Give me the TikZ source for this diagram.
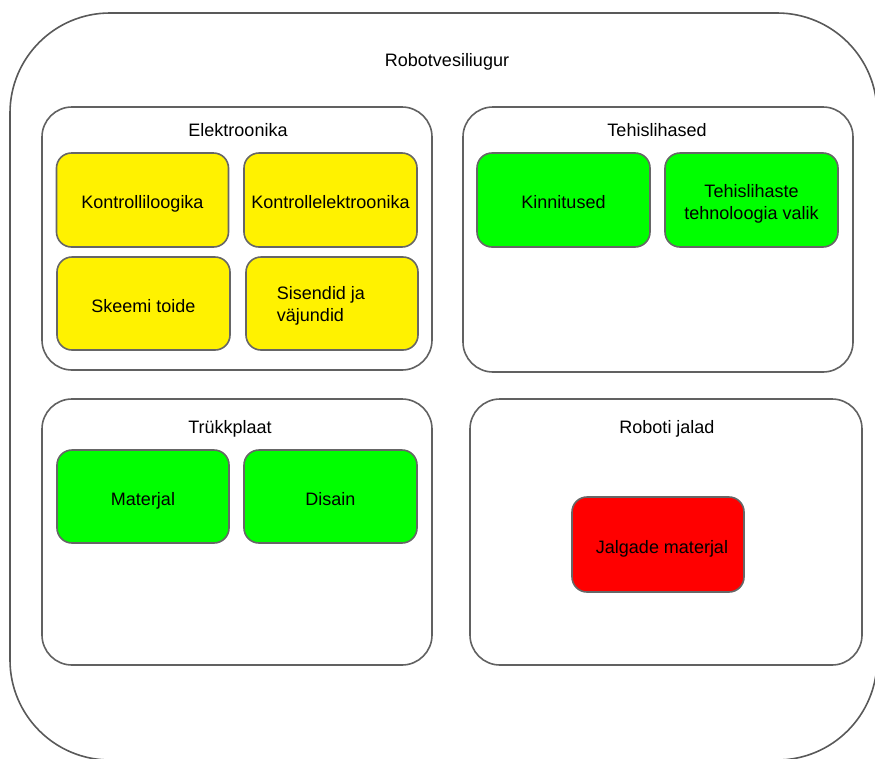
\documentclass[tikz,border=0pt]{standalone}
\usepackage{fontspec}
\setmainfont{Liberation Sans}
\newcommand{\dnone}[1]{\raisebox{0pt}[17pt][0pt]{#1}}
\newcommand{\dnbox}[1]{\raisebox{-4pt}[\height][\depth]{\begin{tabular}{@{}c@{}}#1\end{tabular}}}
\newcommand{\dnboxl}[1]{\raisebox{-3pt}[\height][\depth]{\begin{tabular}{@{}l@{}}#1\end{tabular}}}
\begin{document}
\begin{tikzpicture}[x=1pt,y=-1pt,
  every node/.style={inner sep=0pt,outer sep=0pt,font=\fontsize{18}{22}\selectfont},
  outerbox/.style={draw=black!65,line width=1.6pt,rounded corners=100pt,minimum width=867pt,minimum height=747pt},
  groupbox/.style={draw=black!62,line width=1.6pt,rounded corners=30pt,fill=white},
  itembox/.style={draw=black!60,line width=1.6pt,rounded corners=15pt,minimum width=172pt,minimum height=94pt,align=center},
  ybox/.style={itembox,fill=yellow},
  gbox/.style={itembox,fill={rgb,255:red,0;green,255;blue,0}},
  rbox/.style={itembox,fill=red},
  gtitle/.style={anchor=base}
]
\useasboundingbox (0,0) rectangle (875,758);
\clip (0,0) rectangle (875,758);
\node[outerbox] (root) at (443.5,386.5) {};
\node[gtitle] (roottitle) at (447,66) {Robotvesiliugur};

\node[groupbox,minimum width=390pt,minimum height=263pt] (elek) at (237,238.5) {};
\node[gtitle] (elektitle) at (238,136) {Elektroonika};
\node[ybox] (k1) at (142.5,200) {\dnone{Kontrolliloogika}};
\node[ybox,minimum width=173pt] (k2) at (330.5,200) {\dnone{Kontrollelektroonika}};
\node[ybox,minimum width=173pt,minimum height=93pt] (s1) at (143.5,303.5) {\dnone{Skeemi toide}};
\node[ybox,minimum height=93pt] (s2) at (332,303.5) {};
\node (s2text) at ([xshift=-11pt]s2.center) {\dnboxl{Sisendid ja\\väjundid}};

\node[groupbox,minimum width=390pt,minimum height=265pt] (tehis) at (658,239.5) {};
\node[gtitle] (tehistitle) at (657,136) {Tehislihased};
\node[gbox,minimum width=173pt] (kinn) at (563.5,200) {\dnone{Kinnitused}};
\node[gbox,minimum width=173pt] (tehn) at (751.5,200) {\dnbox{Tehislihaste\\tehnoloogia valik}};

\node[groupbox,minimum width=390pt,minimum height=266pt] (trukk) at (237,532) {};
\node[gtitle] (trukktitle) at (230,433) {Trükkplaat};
\node[gbox,minimum height=93pt] (mat) at (143,496.5) {\dnone{Materjal}};
\node[gbox,minimum width=173pt,minimum height=93pt] (dis) at (330.5,496.5) {\dnone{Disain}};

\node[groupbox,minimum width=392pt,minimum height=266pt] (jalad) at (666,532) {};
\node[gtitle] (jaladtitle) at (667,433) {Roboti jalad};
\node[rbox,minimum height=95pt] (jmat) at (658,544.5) {};
\node (jmattext) at ([xshift=4pt]jmat.center) {\dnone{Jalgade materjal}};
\end{tikzpicture}
\end{document}
